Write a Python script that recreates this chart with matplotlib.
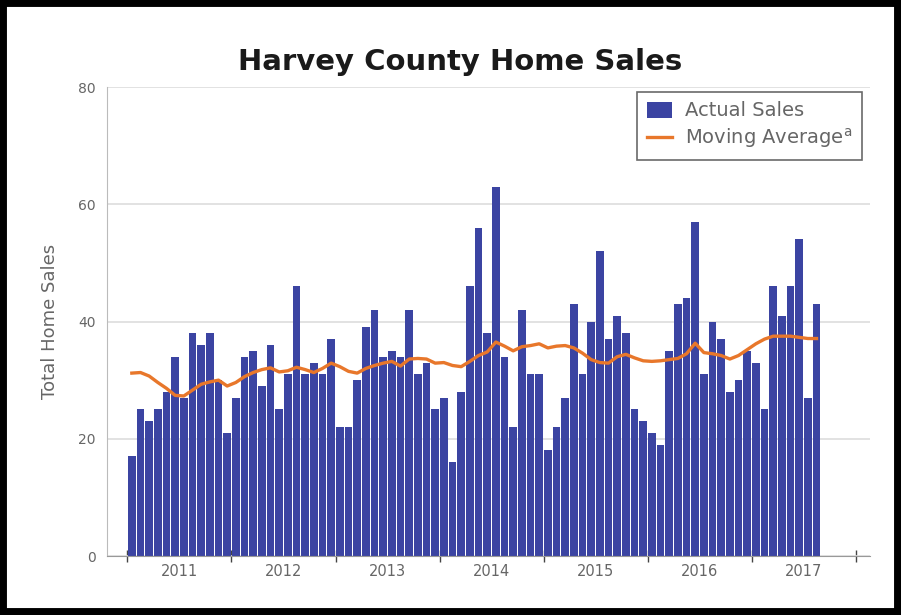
import matplotlib
matplotlib.use('Agg')
import matplotlib.pyplot as plt
from matplotlib.patches import Rectangle
import numpy as np

# Monthly home sales, Jul 2010 - Feb 2017
sales = [17, 25, 23, 25, 28, 34, 27, 38, 36, 38,
         30, 21, 27, 34, 35, 29, 36, 25, 31, 46,
         31, 33, 31, 37, 22, 22, 30, 39, 42, 34,
         35, 34, 42, 31, 33, 25, 27, 16, 28, 46,
         56, 38, 63, 34, 22, 42, 31, 31, 18, 22,
         27, 43, 31, 40, 52, 37, 41, 38, 25, 23,
         21, 19, 35, 43, 44, 57, 31, 40, 37, 28,
         30, 35, 33, 25, 46, 41, 46, 54, 27, 43]

moving_avg = [31.2, 31.3, 30.7, 29.6, 28.6, 27.4, 27.3, 28.3, 29.3, 29.7,
              30.0, 29.0, 29.6, 30.6, 31.3, 31.8, 32.1, 31.4, 31.6, 32.2,
              31.8, 31.3, 32.0, 32.9, 32.3, 31.5, 31.2, 32.0, 32.5, 32.9,
              33.2, 32.4, 33.6, 33.7, 33.6, 32.9, 33.0, 32.5, 32.3, 33.2,
              34.2, 34.8, 36.5, 35.8, 35.0, 35.7, 35.9, 36.2, 35.5, 35.8,
              35.9, 35.5, 34.6, 33.5, 33.0, 32.9, 34.0, 34.4, 33.8, 33.3,
              33.2, 33.3, 33.5, 33.7, 34.5, 36.3, 34.7, 34.5, 34.2, 33.6,
              34.2, 35.2, 36.2, 37.0, 37.5, 37.5, 37.5, 37.3, 37.1, 37.1]

years = ['2011', '2012', '2013', '2014', '2015', '2016', '2017']

blue = '#3b44a2'
orange = '#e8772b'
grey = '#666666'

fig = plt.figure(figsize=(9.01, 6.15), dpi=100)
ax = fig.add_axes([0.1188, 0.0959, 0.8468, 0.7626])

x = np.arange(len(sales))
bars = ax.bar(x, sales, width=0.88, color=blue, label='Actual Sales', zorder=2)
line, = ax.plot(x, moving_avg, color=orange, lw=2.4,
                label='Moving Average$^{\\mathregular{a}}$', zorder=3)

ax.set_xlim(-2.86, 85.17)
ax.set_ylim(0, 80)
ax.set_yticks([0, 20, 40, 60, 80])
ax.grid(axis='y', color='#dddddd', lw=1.2, zorder=0)

# year boundaries (July) as major ticks, year labels in between
ax.set_xticks(np.arange(-0.5, 84, 12))
ax.set_xticklabels([])
ax.set_xticks(np.arange(5.5, 80, 12), minor=True)
ax.set_xticklabels(years, minor=True)
ax.tick_params(axis='x', which='major', direction='inout', length=8, color='#444444', width=1)
ax.tick_params(axis='x', which='minor', length=0, pad=6, labelsize=10.5, labelcolor=grey)
ax.tick_params(axis='y', length=0, pad=8, labelsize=10, labelcolor=grey)

for s in ['top', 'right']:
    ax.spines[s].set_visible(False)
ax.spines['left'].set_color('#bbbbbb')
ax.spines['bottom'].set_color('#999999')

ax.set_ylabel('Total Home Sales', fontsize=13, color=grey, labelpad=14)
fig.text(0.511, 0.9, 'Harvey County Home Sales', ha='center', va='center',
         fontsize=21, fontweight='bold', color='#1a1a1a')

leg = ax.legend([bars, line], ['Actual Sales', 'Moving Average$^{\\mathregular{a}}$'],
                loc='upper right', bbox_to_anchor=(0.99, 0.99), fontsize=14,
                frameon=True, fancybox=False, edgecolor='#444444',
                handlelength=1.3, handleheight=0.9, handletextpad=0.7,
                borderpad=0.5, labelspacing=0.3, borderaxespad=0.0)
leg.get_frame().set_linewidth(1.2)
for t in leg.get_texts():
    t.set_color(grey)

fig.patches.append(Rectangle((0, 0), 1, 1, transform=fig.transFigure,
                             fill=False, edgecolor='black', lw=10))

fig.savefig('out.png', dpi=100)
